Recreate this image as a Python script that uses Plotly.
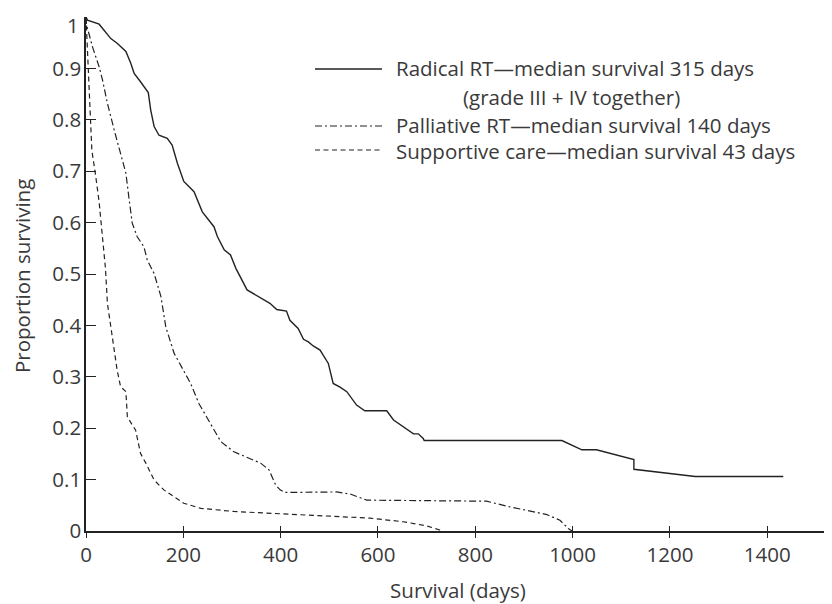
import plotly.graph_objects as go

# ---- data ----
radical_days = [0, 3, 27, 40, 51, 64, 82, 92, 99, 112, 128, 133, 140, 150, 167, 177, 188, 201, 222, 239,
                263, 270, 284, 297, 308, 331, 359, 378, 392, 412, 419, 436, 447, 457, 467, 481, 498, 508,
                522, 536, 556, 573, 618, 632, 673, 683, 693, 695, 978, 1019, 1049, 1126, 1126, 1252, 1433]
radical_surv = [1.0, 0.994, 0.986, 0.971, 0.958, 0.949, 0.933, 0.91, 0.89, 0.874, 0.853, 0.819, 0.787,
                0.770, 0.764, 0.751, 0.715, 0.680, 0.660, 0.621, 0.592, 0.573, 0.547, 0.537, 0.511, 0.469,
                0.453, 0.443, 0.431, 0.428, 0.410, 0.394, 0.373, 0.368, 0.360, 0.352, 0.326, 0.287, 0.280,
                0.271, 0.245, 0.234, 0.234, 0.216, 0.189, 0.189, 0.180, 0.176, 0.176, 0.158, 0.158, 0.139,
                0.120, 0.106, 0.106]

palliative_days = [0, 1, 14, 27, 34, 44, 58, 71, 82, 88, 95, 105, 119, 126, 140, 154, 164, 181, 201, 215,
                   232, 256, 277, 304, 359, 376, 390, 399, 409, 515, 543, 577, 823, 871, 947, 974, 991, 999]
palliative_surv = [1.0, 0.985, 0.94, 0.903, 0.877, 0.832, 0.780, 0.735, 0.696, 0.650, 0.599, 0.573, 0.553,
                   0.527, 0.501, 0.456, 0.397, 0.346, 0.310, 0.287, 0.248, 0.210, 0.174, 0.154, 0.132,
                   0.119, 0.089, 0.080, 0.075, 0.076, 0.072, 0.060, 0.058, 0.047, 0.032, 0.021, 0.005, 0.0]

supportive_days = [0, 2, 5, 8, 12, 20, 27, 32, 37, 40, 44, 54, 64, 71, 82, 85, 102, 112, 123, 140, 160,
                   201, 236, 304, 407, 447, 584, 652, 700, 727, 733]
supportive_surv = [1.0, 0.96, 0.90, 0.82, 0.741, 0.690, 0.640, 0.590, 0.547, 0.511, 0.443, 0.378, 0.313,
                   0.281, 0.271, 0.222, 0.196, 0.151, 0.132, 0.099, 0.080, 0.054, 0.044, 0.038, 0.033,
                   0.032, 0.025, 0.018, 0.010, 0.002, 0.0]

x_ticks = [0, 200, 400, 600, 800, 1000, 1200, 1400]
y_ticks = [0, 0.1, 0.2, 0.3, 0.4, 0.5, 0.6, 0.7, 0.8, 0.9, 1]
y_tick_labels = ["0", "0.1", "0.2", "0.3", "0.4", "0.5", "0.6", "0.7", "0.8", "0.9", "1"]

legend_labels = ["Radical RT\u2014median survival 315 days",
                 "(grade III + IV together)",
                 "Palliative RT\u2014median survival 140 days",
                 "Supportive care\u2014median survival 43 days"]
y_title = "Proportion surviving"
x_title = "Survival (days)"

INK = "#222222"
TXT = "#3a3a3a"
FONT = "Open Sans"
FS = 20.5

fig = go.Figure()
fig.add_trace(go.Scatter(x=radical_days, y=radical_surv, mode="lines",
                         line=dict(color=INK, width=1.4), showlegend=False, cliponaxis=False))
fig.add_trace(go.Scatter(x=palliative_days, y=palliative_surv, mode="lines",
                         line=dict(color=INK, width=1.2, dash="7px,3px,2px,3px"), showlegend=False))
fig.add_trace(go.Scatter(x=supportive_days, y=supportive_surv, mode="lines",
                         line=dict(color=INK, width=1.2, dash="5px,3.5px"), showlegend=False))
# overlay axis only to draw the upper half of the crossing x ticks
fig.add_trace(go.Scatter(x=[0], y=[0], xaxis="x2", mode="markers", marker=dict(opacity=0),
                         showlegend=False, hoverinfo="skip"))

XR = [0, 1529]
# top tick label is placed as an annotation so that it stays inside the page
shown_labels = y_tick_labels[:-1] + [""]

# page body adds an 8px offset; margins compensate so the plot area sits at 86..830 x 17..531
fig.update_layout(
    width=832, height=604,
    margin=dict(l=78, r=10, t=9, b=81),
    paper_bgcolor="white", plot_bgcolor="white",
    font=dict(family=FONT, color=TXT, size=FS),
    xaxis=dict(range=XR, tickvals=x_ticks, ticks="outside", ticklen=5, tickwidth=1.3,
               tickcolor=INK, showline=True, linecolor=INK, linewidth=1.5, showgrid=False,
               zeroline=False, tickfont=dict(size=FS, color=TXT), ticklabelstandoff=0,
               automargin=False, ticklabeloverflow="allow",
               title=dict(text=x_title, font=dict(size=FS, color=TXT), standoff=16)),
    xaxis2=dict(range=XR, overlaying="x", anchor="y", tickvals=x_ticks, ticks="inside", ticklen=5,
                tickwidth=1.3, tickcolor=INK, showticklabels=False, showline=False,
                showgrid=False, zeroline=False, side="bottom", automargin=False),
    yaxis=dict(range=[0, 1], tickvals=y_ticks, ticktext=shown_labels, ticks="inside", ticklen=10,
               tickwidth=1.3, tickcolor=INK, showline=True, linecolor=INK, linewidth=1.5,
               showgrid=False, zeroline=False, tickfont=dict(size=FS, color=TXT),
               ticklabelstandoff=-1, automargin=False, ticklabeloverflow="allow"),
)

def px_x(p):
    return (p - 86) / 744.0

def px_y(p):
    return (531 - p) / 514.0

fig.add_annotation(xref="paper", yref="paper", x=px_x(81), y=px_y(8.5), text=y_tick_labels[-1],
                   showarrow=False, xanchor="right", yanchor="top",
                   font=dict(size=FS, color=TXT, family=FONT))

fig.add_annotation(xref="paper", yref="paper", x=px_x(22), y=px_y(276), text=y_title,
                   textangle=-90, showarrow=False, xanchor="center", yanchor="middle",
                   font=dict(size=FS, color=TXT, family=FONT))

# legend drawn manually (line samples + text)
samples = [(69, "solid", 1.4), (126, "7px,3px,2px,3px", 1.2), (150, "5px,3.5px", 1.2)]
for yy, dash, w in samples:
    fig.add_shape(type="line", xref="paper", yref="paper", x0=px_x(315), x1=px_x(382),
                  y0=px_y(yy), y1=px_y(yy), line=dict(color=INK, width=w, dash=dash))

text_pos = [(394, 68, "left"), (571, 97, "center"), (394, 124.5, "left"), (394, 151.5, "left")]
for (xx, yy, anc), label in zip(text_pos, legend_labels):
    fig.add_annotation(xref="paper", yref="paper", x=px_x(xx), y=px_y(yy), text=label,
                       showarrow=False, xanchor=anc, yanchor="middle",
                       font=dict(size=FS, color=TXT, family=FONT))

fig.write_html("out.html")
